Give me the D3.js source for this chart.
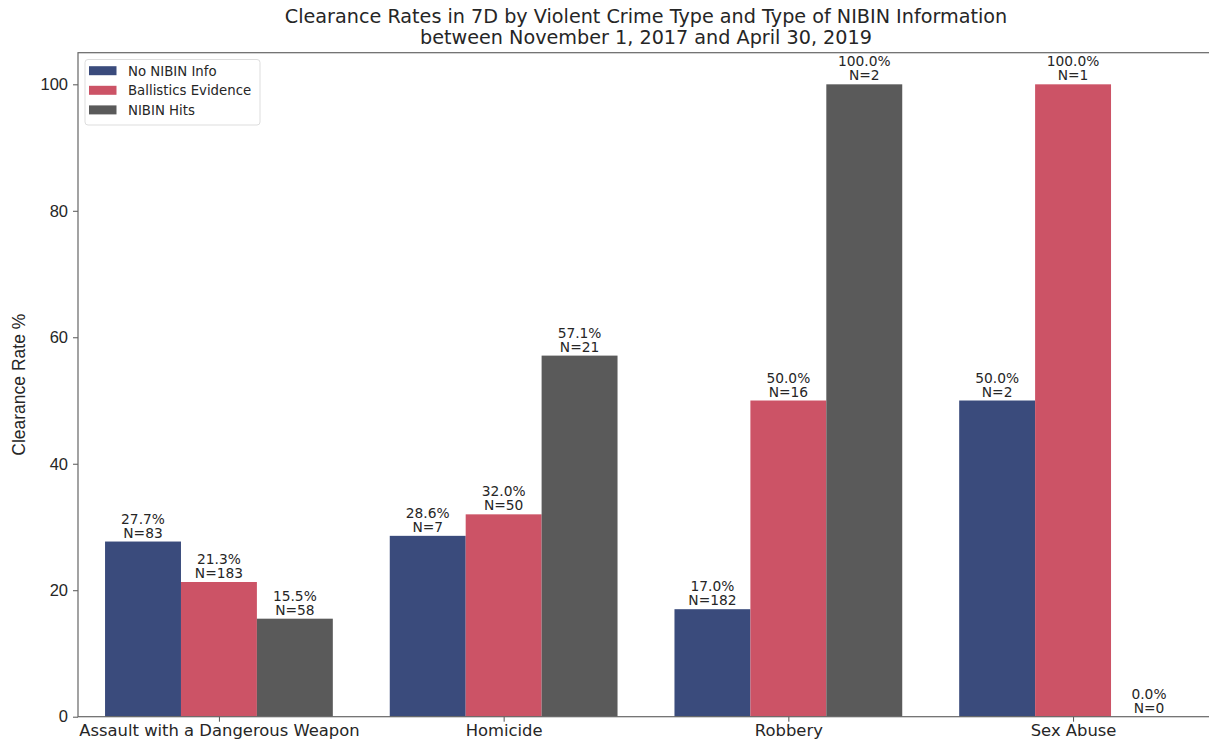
<!DOCTYPE html>
<html>
<head>
<meta charset="utf-8">
<script src="https://cdn.jsdelivr.net/npm/d3@7"></script>
<style>
  body { margin: 0; background: #fff; }
  text { fill: #262626; }
</style>
</head>
<body>
<script>
// crime types and series
var categories = ["Assault with a Dangerous Weapon", "Homicide", "Robbery", "Sex Abuse"];
var seriesNames = ["No NIBIN Info", "Ballistics Evidence", "NIBIN Hits"];
var noNibinRate = [27.7, 28.6, 17.0, 50.0],
    noNibinN = [83, 7, 182, 2];
var ballisticsRate = [21.3, 32.0, 50.0, 100.0],
    ballisticsN = [183, 50, 16, 1];
var hitsRate = [15.5, 57.1, 100.0, 0.0],
    hitsN = [58, 21, 2, 0];
var yTicks = [0, 20, 40, 60, 80, 100];

var colors = ["#3a4b7c", "#cc5366", "#5a5a5a"];
var rates = [noNibinRate, ballisticsRate, hitsRate],
    counts = [noNibinN, ballisticsN, hitsN];

var W = 1209, H = 744;
var padL = 78, padR = 1214, padT = 52.7, padB = 716.7;

var svg = d3.select("body").append("svg")
    .attr("width", W).attr("height", H);

// category positions in data units, matplotlib style
var x = d3.scaleLinear().domain([-0.495, 3.495]).range([padL, padR]);
var y = d3.scaleLinear().domain([0, 105]).range([padB, padT]);
var bw = 0.8 / 3;

var rows = [];
rates.forEach(function(r, s) {
  r.forEach(function(v, i) {
    rows.push({s: s, i: i, v: v, n: counts[s][i], x0: i - 0.4 + s * bw});
  });
});

svg.selectAll("rect.bar")
    .data(rows)
  .enter().append("rect")
    .attr("class", "bar")
    .attr("x", function(d) { return x(d.x0); })
    .attr("width", function(d) { return x(d.x0 + bw) - x(d.x0); })
    .attr("y", function(d) { return y(d.v); })
    .attr("height", function(d) { return y(0) - y(d.v); })
    .attr("fill", function(d) { return colors[d.s]; });

var lab = svg.selectAll("text.lab")
    .data(rows)
  .enter().append("text")
    .attr("class", "lab")
    .attr("text-anchor", "middle")
    .style("font-family", "DejaVu Sans")
    .style("font-size", "13.8px")
    .attr("x", function(d) { return x(d.x0 + bw / 2); })
    .attr("y", function(d) { return y(d.v) - 18; });
lab.append("tspan").text(function(d) { return d.v.toFixed(1) + "%"; });
lab.append("tspan")
    .attr("x", function(d) { return x(d.x0 + bw / 2); })
    .attr("dy", 14)
    .text(function(d) { return "N=" + d.n; });

// axes
var yAxis = svg.append("g")
    .attr("transform", "translate(" + padL + ",0)")
    .call(d3.axisLeft(y).tickValues(yTicks).tickSize(5).tickPadding(5).tickFormat(d3.format("d")));
yAxis.selectAll("text").style("font-family", "Liberation Sans").style("font-size", "16.5px").attr("fill", "#262626");

var xAxis = svg.append("g")
    .attr("transform", "translate(0," + padB + ")")
    .call(d3.axisBottom(x).tickValues([0, 1, 2, 3]).tickSize(5).tickPadding(3)
      .tickFormat(function(d) { return categories[d]; }));
xAxis.selectAll("text").style("font-family", "DejaVu Sans").style("font-size", "16.4px").attr("fill", "#262626");

[yAxis, xAxis].forEach(function(g) {
  g.select(".domain").remove();
  g.selectAll("line").attr("stroke", "#555");
});

// spines
svg.append("rect")
    .attr("x", padL).attr("y", padT)
    .attr("width", padR - padL).attr("height", padB - padT)
    .attr("fill", "none").attr("stroke", "#666").attr("stroke-width", 1.2);

// title
var title = svg.append("text")
    .attr("text-anchor", "middle")
    .style("font-family", "DejaVu Sans")
    .style("font-size", "19.2px")
    .attr("x", (padL + padR) / 2).attr("y", 22.5);
title.append("tspan").text("Clearance Rates in 7D by Violent Crime Type and Type of NIBIN Information");
title.append("tspan").attr("x", (padL + padR) / 2).attr("dy", 21)
    .text("between November 1, 2017 and April 30, 2019");

svg.append("text")
    .attr("text-anchor", "middle")
    .style("font-family", "Liberation Sans")
    .style("font-size", "17.5px")
    .attr("transform", "translate(25," + (padT + padB) / 2 + ") rotate(-90)")
    .text("Clearance Rate %");

// legend
var lg = svg.append("g").attr("transform", "translate(85,59.5)");
lg.append("rect")
    .attr("width", 175).attr("height", 65.5).attr("rx", 3)
    .attr("fill", "#fff").attr("stroke", "#ddd");
var item = lg.selectAll("g.item")
    .data(seriesNames)
  .enter().append("g")
    .attr("transform", function(d, i) { return "translate(4," + (11.2 + i * 19.6) + ")"; });
item.append("rect")
    .attr("y", -4.5).attr("width", 27.5).attr("height", 9)
    .attr("fill", function(d, i) { return colors[i]; });
item.append("text")
    .attr("x", 39).attr("y", 4.8)
    .style("font-family", "DejaVu Sans")
    .style("font-size", "13.3px")
    .text(function(d) { return d; });
</script>
</body>
</html>
